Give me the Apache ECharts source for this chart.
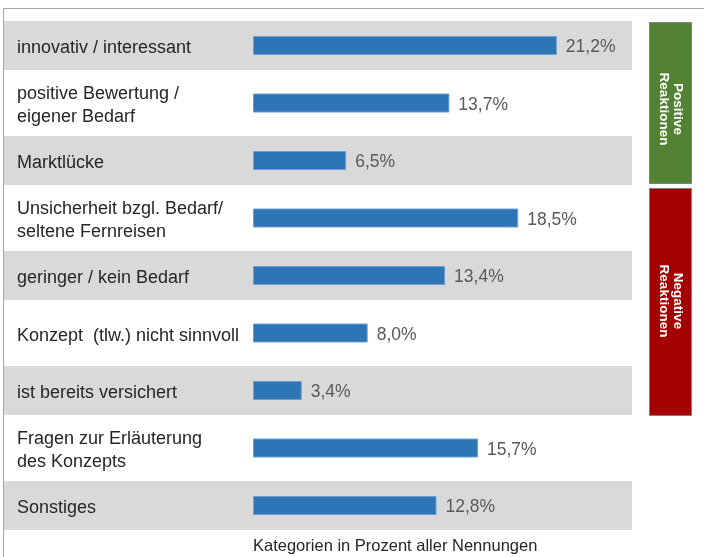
<!DOCTYPE html>
<html>
<head>
<meta charset="utf-8">
<script src="https://cdn.jsdelivr.net/npm/echarts@6/dist/echarts.min.js"></script>
<style>
  html, body { margin: 0; padding: 0; background: #fff; }
  #chart { width: 704px; height: 557px; }
</style>
</head>
<body>
<div id="chart"></div>
<script>
const categories = [
  'innovativ / interessant',
  'positive Bewertung /\neigener Bedarf',
  'Marktlücke',
  'Unsicherheit bzgl. Bedarf/\nseltene Fernreisen',
  'geringer / kein Bedarf',
  'Konzept  (tlw.) nicht sinnvoll',
  'ist bereits versichert',
  'Fragen zur Erläuterung\ndes Konzepts',
  'Sonstiges',
];
const shares = [21.2, 13.7, 6.5, 18.5, 13.4, 8.0, 3.4, 15.7, 12.8];
// gray stripe on every other row
const stripes = [1, '-', 1, '-', 1, '-', 1, '-', 1];
const axisTitle = 'Kategorien in Prozent aller Nennungen';

const font = 'Arial, "Liberation Sans", sans-serif';
const gridTop = 16.75;
const gridBottom = 22.75;
// category texts sit a little below the bar centres
const labelShift = 3;

const chart = echarts.init(document.getElementById('chart'), null, { renderer: 'canvas' });

chart.setOption({
  animation: false,
  grid: [
    { left: 3, right: 72, top: gridTop, bottom: gridBottom },
    { left: 253, right: 21, top: gridTop, bottom: gridBottom },
    { left: 253, right: 21, top: gridTop + labelShift, bottom: gridBottom - labelShift },
  ],
  xAxis: [
    { gridIndex: 0, type: 'value', min: 0, max: 1, show: false },
    { gridIndex: 1, type: 'value', min: 0, max: 30, show: false },
    { gridIndex: 2, type: 'value', min: 0, max: 30, show: false },
  ],
  yAxis: [
    { gridIndex: 0, type: 'category', data: categories, inverse: true, show: false },
    { gridIndex: 1, type: 'category', data: categories, inverse: true, show: false },
    {
      gridIndex: 2,
      type: 'category',
      data: categories,
      inverse: true,
      axisLine: { show: false },
      axisTick: { show: false },
      axisLabel: {
        align: 'left',
        margin: 236,
        color: '#262626',
        fontFamily: font,
        fontSize: 18,
        lineHeight: 23,
      },
    },
  ],
  series: [
    {
      type: 'bar',
      xAxisIndex: 0,
      yAxisIndex: 0,
      data: stripes,
      barWidth: 49,
      silent: true,
      z: -1,
      itemStyle: { color: '#d9d9d9' },
    },
    {
      type: 'bar',
      xAxisIndex: 1,
      yAxisIndex: 1,
      data: shares,
      barWidth: 19,
      itemStyle: { color: '#2e75b6', borderColor: '#6a9fd2', borderWidth: 1 },
      label: {
        show: true,
        position: 'right',
        distance: 9,
        offset: [0, 2],
        color: '#595959',
        fontFamily: font,
        fontSize: 17.5,
        formatter: (p) => p.value.toFixed(1).replace('.', ',') + '%',
      },
    },
  ],
  graphic: [
    {
      type: 'polyline',
      shape: { points: [[3.5, 557], [3.5, 8.5], [704, 8.5]] },
      style: { stroke: '#a6a6a6', lineWidth: 1, fill: null },
    },
    {
      type: 'rect',
      shape: { x: 649.5, y: 22.5, width: 42, height: 161 },
      style: { fill: '#548235', stroke: '#7f7f7f', lineWidth: 1 },
    },
    {
      type: 'rect',
      shape: { x: 649.5, y: 188.5, width: 42, height: 227 },
      style: { fill: '#a50000', stroke: '#7f7f7f', lineWidth: 1 },
    },
    {
      type: 'text',
      x: 670.5,
      y: 109,
      rotation: -Math.PI / 2,
      style: {
        text: 'Positive\nReaktionen',
        fill: '#ffffff',
        font: 'bold 13.5px ' + font,
        align: 'center',
        verticalAlign: 'middle',
        lineHeight: 14,
      },
    },
    {
      type: 'text',
      x: 670.5,
      y: 301,
      rotation: -Math.PI / 2,
      style: {
        text: 'Negative\nReaktionen',
        fill: '#ffffff',
        font: 'bold 13.5px ' + font,
        align: 'center',
        verticalAlign: 'middle',
        lineHeight: 14,
      },
    },
    {
      type: 'text',
      x: 253,
      y: 546,
      style: {
        text: axisTitle,
        fill: '#262626',
        font: '16.5px ' + font,
        align: 'left',
        verticalAlign: 'middle',
      },
    },
  ],
});
</script>
</body>
</html>
